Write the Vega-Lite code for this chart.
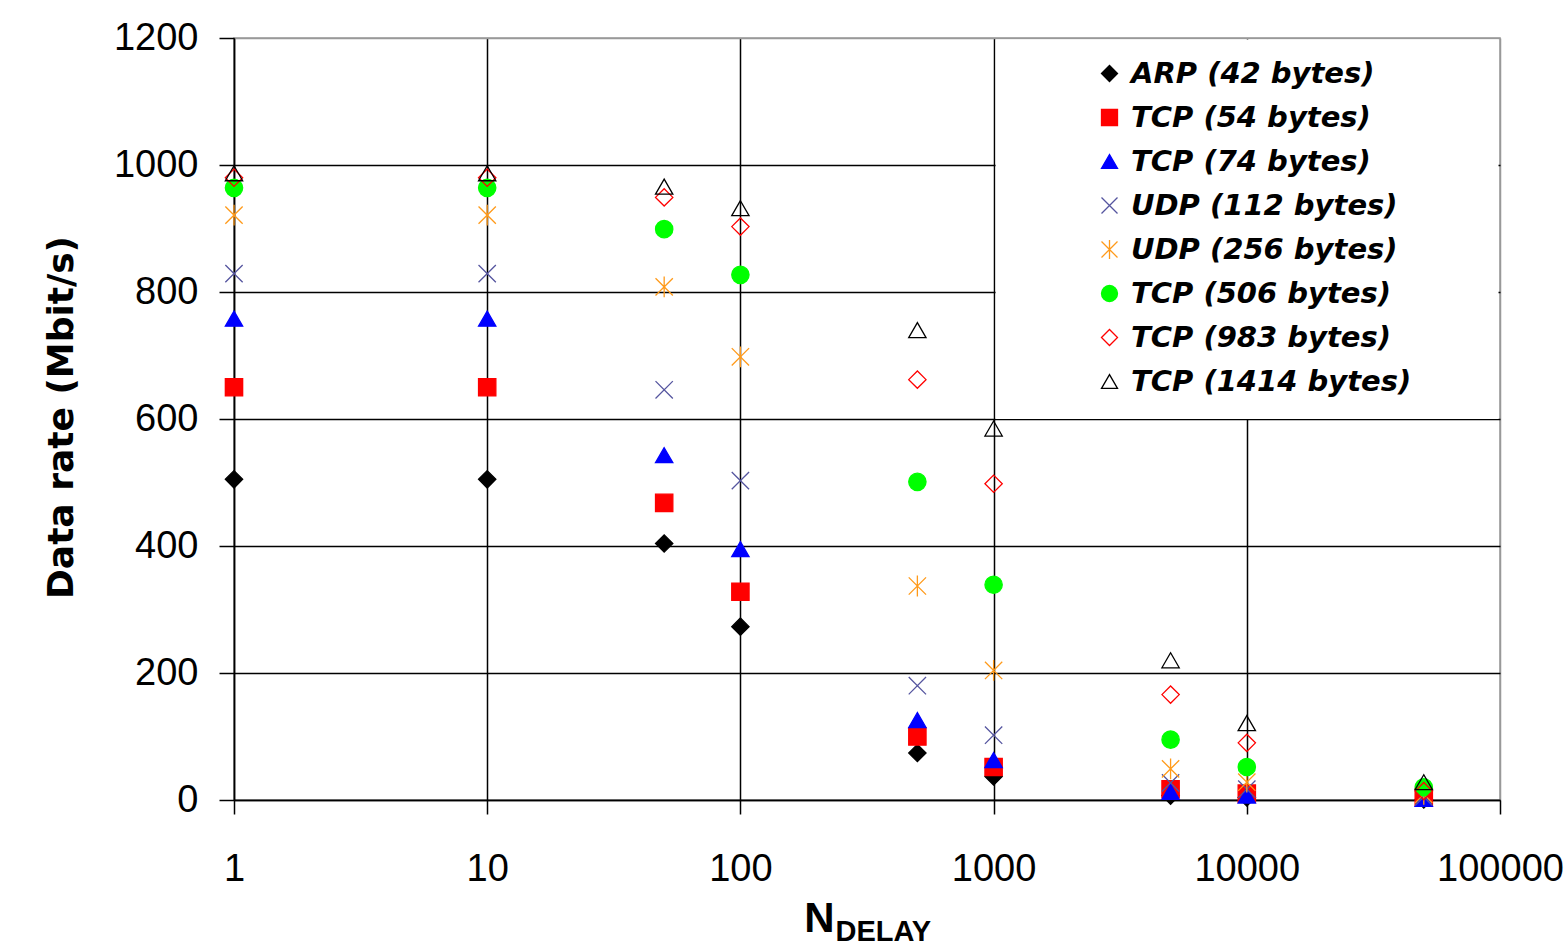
{
  "$schema": "https://vega.github.io/schema/vega-lite/v6.json",
  "width": 1266,
  "height": 762,
  "autosize": {"type": "none"},
  "padding": {"left": 234, "top": 38, "right": 64, "bottom": 148},
  "background": "white",
  "config": {
    "view": {"stroke": "#999999", "strokeWidth": 1.5},
    "axis": {
      "domainColor": "black",
      "domainWidth": 1.5,
      "gridColor": "black",
      "gridWidth": 1.5,
      "tickColor": "black",
      "tickWidth": 1.5,
      "labelColor": "black",
      "labelFont": "Liberation Sans",
      "labelFontSize": 38,
      "titleColor": "black"
    }
  },
  "data": {
    "values": [
      {"series": "ARP (42 bytes)", "ndelay": 1, "rate": 505},
      {"series": "ARP (42 bytes)", "ndelay": 10, "rate": 505},
      {"series": "ARP (42 bytes)", "ndelay": 50, "rate": 404},
      {"series": "ARP (42 bytes)", "ndelay": 100, "rate": 273},
      {"series": "ARP (42 bytes)", "ndelay": 500, "rate": 74},
      {"series": "ARP (42 bytes)", "ndelay": 1000, "rate": 37},
      {"series": "ARP (42 bytes)", "ndelay": 5000, "rate": 7},
      {"series": "ARP (42 bytes)", "ndelay": 10000, "rate": 4},
      {"series": "ARP (42 bytes)", "ndelay": 50000, "rate": 1},
      {"series": "TCP (54 bytes)", "ndelay": 1, "rate": 650},
      {"series": "TCP (54 bytes)", "ndelay": 10, "rate": 650},
      {"series": "TCP (54 bytes)", "ndelay": 50, "rate": 468},
      {"series": "TCP (54 bytes)", "ndelay": 100, "rate": 328},
      {"series": "TCP (54 bytes)", "ndelay": 500, "rate": 100},
      {"series": "TCP (54 bytes)", "ndelay": 1000, "rate": 52},
      {"series": "TCP (54 bytes)", "ndelay": 5000, "rate": 17},
      {"series": "TCP (54 bytes)", "ndelay": 10000, "rate": 10},
      {"series": "TCP (54 bytes)", "ndelay": 50000, "rate": 4},
      {"series": "TCP (74 bytes)", "ndelay": 1, "rate": 758},
      {"series": "TCP (74 bytes)", "ndelay": 10, "rate": 758},
      {"series": "TCP (74 bytes)", "ndelay": 50, "rate": 543},
      {"series": "TCP (74 bytes)", "ndelay": 100, "rate": 395},
      {"series": "TCP (74 bytes)", "ndelay": 500, "rate": 126},
      {"series": "TCP (74 bytes)", "ndelay": 1000, "rate": 63},
      {"series": "TCP (74 bytes)", "ndelay": 5000, "rate": 13},
      {"series": "TCP (74 bytes)", "ndelay": 10000, "rate": 7},
      {"series": "TCP (74 bytes)", "ndelay": 50000, "rate": 2},
      {"series": "UDP (112 bytes)", "ndelay": 1, "rate": 829},
      {"series": "UDP (112 bytes)", "ndelay": 10, "rate": 829},
      {"series": "UDP (112 bytes)", "ndelay": 50, "rate": 646},
      {"series": "UDP (112 bytes)", "ndelay": 100, "rate": 503},
      {"series": "UDP (112 bytes)", "ndelay": 500, "rate": 180},
      {"series": "UDP (112 bytes)", "ndelay": 1000, "rate": 102},
      {"series": "UDP (112 bytes)", "ndelay": 5000, "rate": 27},
      {"series": "UDP (112 bytes)", "ndelay": 10000, "rate": 17},
      {"series": "UDP (112 bytes)", "ndelay": 50000, "rate": 5},
      {"series": "UDP (256 bytes)", "ndelay": 1, "rate": 921},
      {"series": "UDP (256 bytes)", "ndelay": 10, "rate": 921},
      {"series": "UDP (256 bytes)", "ndelay": 50, "rate": 808},
      {"series": "UDP (256 bytes)", "ndelay": 100, "rate": 698},
      {"series": "UDP (256 bytes)", "ndelay": 500, "rate": 337},
      {"series": "UDP (256 bytes)", "ndelay": 1000, "rate": 204},
      {"series": "UDP (256 bytes)", "ndelay": 5000, "rate": 49},
      {"series": "UDP (256 bytes)", "ndelay": 10000, "rate": 28},
      {"series": "UDP (256 bytes)", "ndelay": 50000, "rate": 9},
      {"series": "TCP (506 bytes)", "ndelay": 1, "rate": 964},
      {"series": "TCP (506 bytes)", "ndelay": 10, "rate": 964},
      {"series": "TCP (506 bytes)", "ndelay": 50, "rate": 899},
      {"series": "TCP (506 bytes)", "ndelay": 100, "rate": 827},
      {"series": "TCP (506 bytes)", "ndelay": 500, "rate": 501},
      {"series": "TCP (506 bytes)", "ndelay": 1000, "rate": 339},
      {"series": "TCP (506 bytes)", "ndelay": 5000, "rate": 95},
      {"series": "TCP (506 bytes)", "ndelay": 10000, "rate": 52},
      {"series": "TCP (506 bytes)", "ndelay": 50000, "rate": 20},
      {"series": "TCP (983 bytes)", "ndelay": 1, "rate": 980},
      {"series": "TCP (983 bytes)", "ndelay": 10, "rate": 980},
      {"series": "TCP (983 bytes)", "ndelay": 50, "rate": 949},
      {"series": "TCP (983 bytes)", "ndelay": 100, "rate": 903},
      {"series": "TCP (983 bytes)", "ndelay": 500, "rate": 662},
      {"series": "TCP (983 bytes)", "ndelay": 1000, "rate": 498},
      {"series": "TCP (983 bytes)", "ndelay": 5000, "rate": 166},
      {"series": "TCP (983 bytes)", "ndelay": 10000, "rate": 90},
      {"series": "TCP (983 bytes)", "ndelay": 50000, "rate": 14},
      {"series": "TCP (1414 bytes)", "ndelay": 1, "rate": 987},
      {"series": "TCP (1414 bytes)", "ndelay": 10, "rate": 987},
      {"series": "TCP (1414 bytes)", "ndelay": 50, "rate": 966},
      {"series": "TCP (1414 bytes)", "ndelay": 100, "rate": 932},
      {"series": "TCP (1414 bytes)", "ndelay": 500, "rate": 740},
      {"series": "TCP (1414 bytes)", "ndelay": 1000, "rate": 585},
      {"series": "TCP (1414 bytes)", "ndelay": 5000, "rate": 220},
      {"series": "TCP (1414 bytes)", "ndelay": 10000, "rate": 121},
      {"series": "TCP (1414 bytes)", "ndelay": 50000, "rate": 28}
    ]
  },
  "layer": [
    {
      "data": {"values": [{"box_x": 1000, "box_x2": 100000, "box_y": 600, "box_y2": 1200}]},
      "mark": {"type": "rect", "fill": "white", "stroke": null, "xOffset": 2, "x2Offset": -1.5, "y2Offset": 1.5},
      "encoding": {
        "x": {"field": "box_x", "type": "quantitative", "axis": null},
        "x2": {"field": "box_x2"},
        "y": {"field": "box_y", "type": "quantitative"},
        "y2": {"field": "box_y2"}
      }
    },
    {
      "mark": {"type": "point", "size": 300, "strokeWidth": 1.3, "opacity": 1},
      "encoding": {
        "x": {
          "field": "ndelay",
          "type": "quantitative",
          "scale": {"type": "log", "domain": [1, 100000]},
          "axis": {
            "orient": "bottom",
            "values": [1, 10, 100, 1000, 10000, 100000],
            "format": "d",
            "grid": true,
            "gridColor": {"condition": {"test": "datum.value >= 100000", "value": "#999999"}, "value": "black"},
            "tickSize": 14,
            "labelPadding": 36,
            "labelFlush": false,
            "labelOverlap": false,
            "labelBound": false,
            "title": "N",
            "titleFont": "Liberation Sans",
            "titleFontWeight": "bold",
            "titleFontSize": 42,
            "titleX": 585,
            "titleY": 131,
            "titleAlign": "center",
            "titleBaseline": "alphabetic"
          }
        },
        "y": {
          "field": "rate",
          "type": "quantitative",
          "scale": {"domain": [0, 1200], "nice": false},
          "axis": {
            "values": [0, 200, 400, 600, 800, 1000, 1200],
            "format": "d",
            "grid": true,
            "gridColor": {"condition": {"test": "datum.value >= 1200", "value": "#999999"}, "value": "black"},
            "tickSize": 15,
            "labelPadding": 21,
            "title": "Data rate (Mbit/s)",
            "titleFont": "DejaVu Sans",
            "titleFontWeight": "bold",
            "titleFontSize": 36,
            "titleAngle": 270,
            "titleX": -162,
            "titleY": 379,
            "titleAlign": "center",
            "titleBaseline": "alphabetic"
          }
        },
        "shape": {
          "field": "series",
          "type": "nominal",
          "scale": {
            "domain": ["ARP (42 bytes)", "TCP (54 bytes)", "TCP (74 bytes)", "UDP (112 bytes)", "UDP (256 bytes)", "TCP (506 bytes)", "TCP (983 bytes)", "TCP (1414 bytes)"],
            "range": ["diamond", "square", "triangle-up", "M-1,-1L1,1M-1,1L1,-1", "M-1,-1L1,1M-1,1L1,-1M0,-1.2L0,1.2", "circle", "diamond", "triangle-up"]
          },
          "legend": {"title": null, "orient": "none", "legendX": 861, "legendY": 21, "zindex": 2, "symbolSize": 256, "symbolStrokeWidth": 1.3, "labelFont": "DejaVu Sans", "labelFontSize": 29, "labelFontWeight": "bold", "labelFontStyle": "italic", "labelColor": "black", "labelOffset": 7, "rowPadding": 14, "padding": 0, "labelLimit": 0}
        },
        "fill": {
          "field": "series",
          "type": "nominal",
          "scale": {
            "domain": ["ARP (42 bytes)", "TCP (54 bytes)", "TCP (74 bytes)", "UDP (112 bytes)", "UDP (256 bytes)", "TCP (506 bytes)", "TCP (983 bytes)", "TCP (1414 bytes)"],
            "range": ["#000000", "#FF0000", "#0000FF", "transparent", "transparent", "#00FF00", "transparent", "transparent"]
          },
          "legend": {"title": null, "orient": "none", "legendX": 861, "legendY": 21, "zindex": 2, "symbolSize": 256, "symbolStrokeWidth": 1.3, "labelFont": "DejaVu Sans", "labelFontSize": 29, "labelFontWeight": "bold", "labelFontStyle": "italic", "labelColor": "black", "labelOffset": 7, "rowPadding": 14, "padding": 0, "labelLimit": 0}
        },
        "stroke": {
          "field": "series",
          "type": "nominal",
          "scale": {
            "domain": ["ARP (42 bytes)", "TCP (54 bytes)", "TCP (74 bytes)", "UDP (112 bytes)", "UDP (256 bytes)", "TCP (506 bytes)", "TCP (983 bytes)", "TCP (1414 bytes)"],
            "range": ["#000000", "#FF0000", "#0000FF", "#55559F", "#FF9A1A", "#00FF00", "#FF0000", "#000000"]
          },
          "legend": {"title": null, "orient": "none", "legendX": 861, "legendY": 21, "zindex": 2, "symbolSize": 256, "symbolStrokeWidth": 1.3, "labelFont": "DejaVu Sans", "labelFontSize": 29, "labelFontWeight": "bold", "labelFontStyle": "italic", "labelColor": "black", "labelOffset": 7, "rowPadding": 14, "padding": 0, "labelLimit": 0}
        }
      }
    },
    {
      "mark": {"type": "point", "opacity": 0},
      "encoding": {
        "x": {
          "field": "ndelay",
          "type": "quantitative",
          "scale": {"type": "log", "domain": [1, 100000]},
          "axis": {
            "orient": "bottom",
            "labels": false,
            "ticks": false,
            "domain": false,
            "grid": false,
            "title": "DELAY",
            "titleFont": "Liberation Sans",
            "titleFontWeight": "bold",
            "titleFontSize": 29,
            "titleX": 601,
            "titleY": 140,
            "titleAlign": "left",
            "titleBaseline": "alphabetic"
          }
        }
      }
    }
  ],
  "resolve": {"axis": {"x": "independent"}}
}
